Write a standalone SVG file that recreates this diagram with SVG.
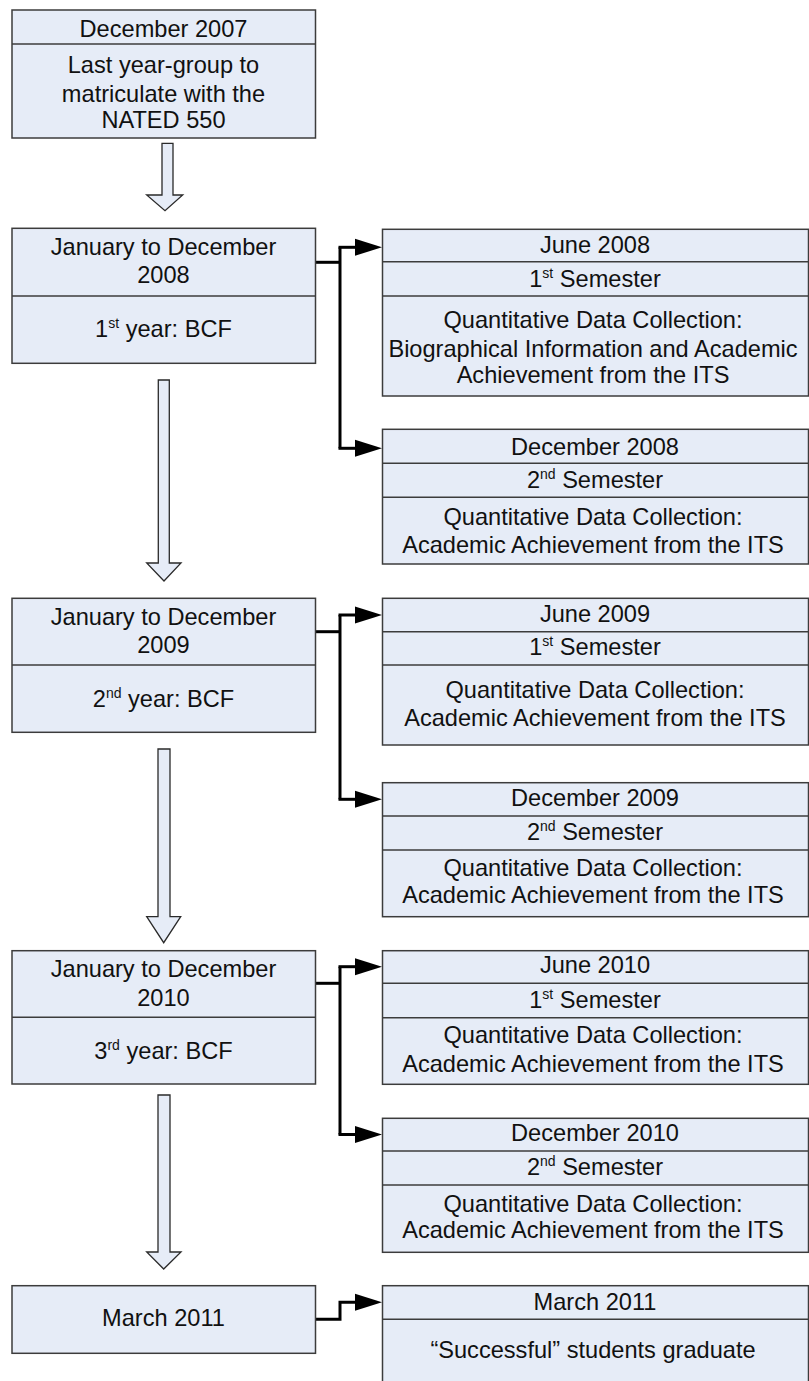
<svg xmlns="http://www.w3.org/2000/svg" width="809" height="1381" viewBox="0 0 809 1381">
<style>
.box{fill:#E6ECF7;stroke:#3c3c3c;stroke-width:1.5}
.div{stroke:#3c3c3c;stroke-width:1.5;fill:none}
.t{font-family:"Liberation Sans",Arial,sans-serif;font-size:23.6px;fill:#111;text-anchor:middle}
.sup{font-size:14px}
.blk{fill:#E6ECF7;stroke:#2a2a2a;stroke-width:1.3;stroke-linejoin:miter}
.con{fill:none;stroke:#000;stroke-width:3}
.ah{fill:#000}
</style>
<rect width="809" height="1381" fill="#fff"/>

<g id="arrows-block">
<polygon class="blk" points="162,143.3 173,143.3 173,195 182.7,195 165,210.7 146.7,195 162,195"/>
<polygon class="blk" points="158.3,380 169.3,380 169.3,563 181,563 164,581 146.7,563 158.3,563"/>
<polygon class="blk" points="158,749 170,749 170,916.7 180.7,916.7 163.7,942.7 146.7,916.7 158,916.7"/>
<polygon class="blk" points="158,1095 170,1095 170,1252 181,1252 163.7,1269 146.7,1252 158,1252"/>
</g>

<g id="connectors">
<path class="con" d="M315,262.3 H340"/>
<path class="con" d="M340,247.3 V448.3"/>
<path class="con" d="M338.5,247.3 H357"/>
<path class="con" d="M338.5,448.3 H357"/>
<polygon class="ah" points="355,238.8 382,247.3 355,255.8"/>
<polygon class="ah" points="355,439.8 382,448.3 355,456.8"/>
<path class="con" d="M315,631.7 H340"/>
<path class="con" d="M340,615 V799.3"/>
<path class="con" d="M338.5,615 H357"/>
<path class="con" d="M338.5,799.3 H357"/>
<polygon class="ah" points="355,606.5 382,615 355,623.5"/>
<polygon class="ah" points="355,790.8 382,799.3 355,807.8"/>
<path class="con" d="M315,983.3 H340"/>
<path class="con" d="M340,966.7 V1134.5"/>
<path class="con" d="M338.5,966.7 H357"/>
<path class="con" d="M338.5,1134.5 H357"/>
<polygon class="ah" points="355,958.2 382,966.7 355,975.2"/>
<polygon class="ah" points="355,1126 382,1134.5 355,1143"/>
<path class="con" d="M315,1319.3 H340 V1302.3 H357"/>
<polygon class="ah" points="355,1293.8 382,1302.3 355,1310.8"/>
</g>

<g id="b2007">
<rect class="box" x="12" y="10" width="303.5" height="128"/>
<line class="div" x1="12" y1="44" x2="315.5" y2="44"/>
<text class="t" x="163.5" y="36.7">December 2007</text>
<text class="t" x="163.5" y="73.3">Last year-group to</text>
<text class="t" x="163.5" y="101.7">matriculate with the</text>
<text class="t" x="163.5" y="128.3">NATED 550</text>
</g>

<g id="b2008">
<rect class="box" x="12" y="228.3" width="303.5" height="135"/>
<line class="div" x1="12" y1="296" x2="315.5" y2="296"/>
<text class="t" x="163.5" y="255">January to December</text>
<text class="t" x="163.5" y="283.3">2008</text>
<text class="t" x="163.5" y="336.7">1<tspan class="sup" dy="-9">st</tspan><tspan dy="9"> year: BCF</tspan></text>
</g>

<g id="b2009">
<rect class="box" x="12" y="598.3" width="303.5" height="134"/>
<line class="div" x1="12" y1="665" x2="315.5" y2="665"/>
<text class="t" x="163.5" y="625">January to December</text>
<text class="t" x="163.5" y="653.3">2009</text>
<text class="t" x="163.5" y="706.7">2<tspan class="sup" dy="-9">nd</tspan><tspan dy="9"> year: BCF</tspan></text>
</g>

<g id="b2010">
<rect class="box" x="12" y="950.7" width="303.5" height="133.3"/>
<line class="div" x1="12" y1="1017.3" x2="315.5" y2="1017.3"/>
<text class="t" x="163.5" y="977.4">January to December</text>
<text class="t" x="163.5" y="1005.7">2010</text>
<text class="t" x="163.5" y="1059">3<tspan class="sup" dy="-9">rd</tspan><tspan dy="9"> year: BCF</tspan></text>
</g>

<g id="b2011">
<rect class="box" x="12" y="1285.7" width="303.5" height="67.6"/>
<text class="t" x="163.5" y="1326">March 2011</text>
</g>

<g id="r-june2008">
<rect class="box" x="382.5" y="229.3" width="426" height="166.7"/>
<line class="div" x1="382.5" y1="261.7" x2="808.5" y2="261.7"/>
<line class="div" x1="382.5" y1="296" x2="808.5" y2="296"/>
<text class="t" x="595" y="253.3">June 2008</text>
<text class="t" x="595" y="286.7">1<tspan class="sup" dy="-9">st</tspan><tspan dy="9"> Semester</tspan></text>
<text class="t" x="593" y="328.3">Quantitative Data Collection:</text>
<text class="t" x="593" y="356.7">Biographical Information and Academic</text>
<text class="t" x="593" y="383.3">Achievement from the ITS</text>
</g>

<g id="r-dec2008">
<rect class="box" x="382.5" y="429.3" width="426" height="134.7"/>
<line class="div" x1="382.5" y1="463.3" x2="808.5" y2="463.3"/>
<line class="div" x1="382.5" y1="497.3" x2="808.5" y2="497.3"/>
<text class="t" x="595" y="455">December 2008</text>
<text class="t" x="595" y="488.3">2<tspan class="sup" dy="-9">nd</tspan><tspan dy="9"> Semester</tspan></text>
<text class="t" x="593" y="525">Quantitative Data Collection:</text>
<text class="t" x="593" y="553.3">Academic Achievement from the ITS</text>
</g>

<g id="r-june2009">
<rect class="box" x="382.5" y="598.3" width="426" height="146.7"/>
<line class="div" x1="382.5" y1="631.7" x2="808.5" y2="631.7"/>
<line class="div" x1="382.5" y1="665" x2="808.5" y2="665"/>
<text class="t" x="595" y="621.7">June 2009</text>
<text class="t" x="595" y="655">1<tspan class="sup" dy="-9">st</tspan><tspan dy="9"> Semester</tspan></text>
<text class="t" x="595" y="698.3">Quantitative Data Collection:</text>
<text class="t" x="595" y="726">Academic Achievement from the ITS</text>
</g>

<g id="r-dec2009">
<rect class="box" x="382.5" y="782.7" width="426" height="134"/>
<line class="div" x1="382.5" y1="816" x2="808.5" y2="816"/>
<line class="div" x1="382.5" y1="850" x2="808.5" y2="850"/>
<text class="t" x="595" y="806">December 2009</text>
<text class="t" x="595" y="840">2<tspan class="sup" dy="-9">nd</tspan><tspan dy="9"> Semester</tspan></text>
<text class="t" x="593" y="876">Quantitative Data Collection:</text>
<text class="t" x="593" y="903.3">Academic Achievement from the ITS</text>
</g>

<g id="r-june2010">
<rect class="box" x="382.5" y="950.7" width="426" height="133.6"/>
<line class="div" x1="382.5" y1="983.3" x2="808.5" y2="983.3"/>
<line class="div" x1="382.5" y1="1017.7" x2="808.5" y2="1017.7"/>
<text class="t" x="595" y="973.3">June 2010</text>
<text class="t" x="595" y="1008.3">1<tspan class="sup" dy="-9">st</tspan><tspan dy="9"> Semester</tspan></text>
<text class="t" x="593" y="1043.3">Quantitative Data Collection:</text>
<text class="t" x="593" y="1071.7">Academic Achievement from the ITS</text>
</g>

<g id="r-dec2010">
<rect class="box" x="382.5" y="1118.3" width="426" height="134"/>
<line class="div" x1="382.5" y1="1151" x2="808.5" y2="1151"/>
<line class="div" x1="382.5" y1="1185" x2="808.5" y2="1185"/>
<text class="t" x="595" y="1141">December 2010</text>
<text class="t" x="595" y="1175">2<tspan class="sup" dy="-9">nd</tspan><tspan dy="9"> Semester</tspan></text>
<text class="t" x="593" y="1211.7">Quantitative Data Collection:</text>
<text class="t" x="593" y="1238.3">Academic Achievement from the ITS</text>
</g>

<g id="r-march2011">
<rect class="box" x="382.5" y="1285.7" width="426" height="110"/>
<line class="div" x1="382.5" y1="1319.3" x2="808.5" y2="1319.3"/>
<text class="t" x="595" y="1310">March 2011</text>
<text class="t" x="593" y="1358.3">“Successful” students graduate</text>
</g>
</svg>
